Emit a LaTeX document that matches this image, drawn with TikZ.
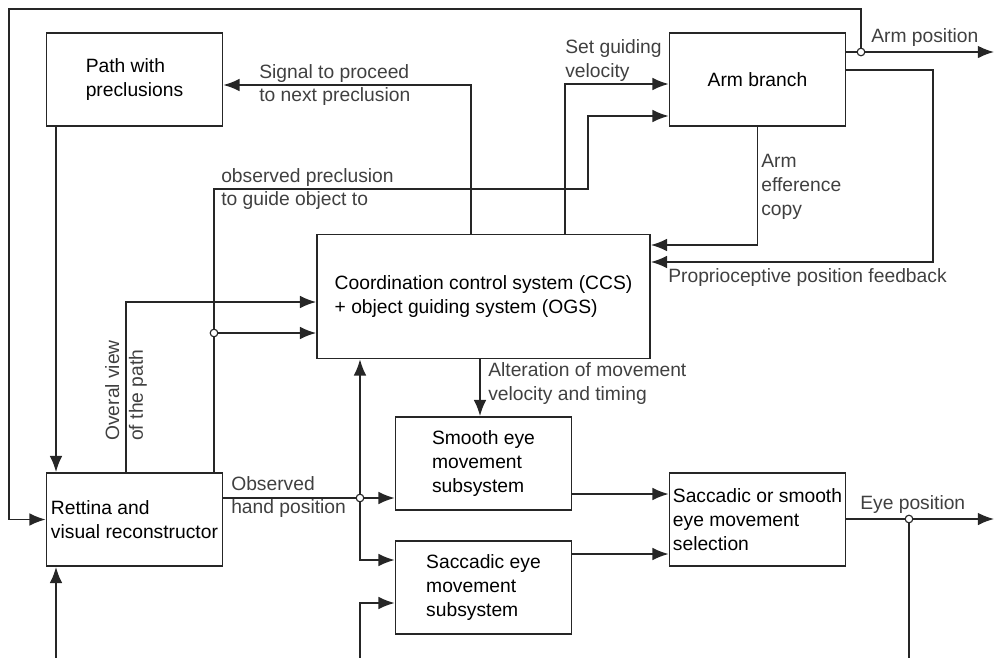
\documentclass[tikz,border=0pt]{standalone}
\usepackage{fontspec}
\setmainfont{Liberation Sans}
\usetikzlibrary{arrows.meta}

\definecolor{wiregray}{gray}{0.15}
\definecolor{notegray}{gray}{0.25}

\tikzset{
  box/.style={draw=wiregray, line width=1.2pt, minimum width=4.4cm, minimum height=2.33cm,
    align=left, inner sep=1pt, font=\fontsize{13.7}{17}\selectfont},
  link/.style={draw=wiregray, line width=1.1pt},
  flow/.style={link, -{Latex[length=11.5pt,width=9pt]}},
  lbl/.style={text=notegray, inner sep=0pt, align=left, font=\fontsize{13.7}{17}\selectfont},
  tap/.style={circle, draw=wiregray, fill=white, line width=0.8pt, inner sep=0pt, minimum size=0.19cm}
}

\begin{document}
\begin{tikzpicture}[x=0.025cm, y=-0.025cm]
\useasboundingbox (0,0) rectangle (994,658);

% blocks
\node[box] (path) at (134.5,79.5) {Path with\\preclusions};
\node[box] (arm) at (757.5,79.5) {Arm branch};
\node[box, minimum width=8.325cm, minimum height=3.1cm] (ccs) at (483.5,296.5)
  {Coordination control system (CCS)\\+ object guiding system (OGS)};
\node[box] (ret) at (134.5,519.5) {Rettina and\\visual reconstructor};
\node[box] (smooth) at (483.5,463.5) {Smooth eye\\movement\\subsystem};
\node[box] (sacc) at (483.5,587.5) {Saccadic eye\\movement\\subsystem};
\node[box] (sel) at (757.5,519.5) {Saccadic or smooth\\eye movement\\selection};

% corners and branch points of the wires
\coordinate (jarm) at (861,52);
\coordinate (armout) at (994,52);
\coordinate (loop) at (9,9);
\coordinate (prop1) at (933,70);
\coordinate (prop2) at (933,262);
\coordinate (eff) at (757,245);
\coordinate (vel) at (565,84);
\coordinate (sig) at (471,85);
\coordinate (obs1) at (214,189);
\coordinate (obs2) at (588,189);
\coordinate (obs3) at (588,116);
\coordinate (jobs) at (214,333);
\coordinate (ov) at (126,302);
\coordinate (pathx) at (56,300);
\coordinate (botl) at (56,658);
\coordinate (jhand) at (360,498);
\coordinate (sacc1) at (360,560);
\coordinate (sacc2) at (360,603);
\coordinate (botm) at (360,658);
\coordinate (alt) at (480,400);
\coordinate (smo) at (620,494);
\coordinate (sac) at (620,554);
\coordinate (jeye) at (909,519);
\coordinate (eyeout) at (994,519);
\coordinate (boteye) at (909,658);

% arm loop
\draw[flow] (arm.east |- jarm) -- (armout);
\draw[flow] (jarm) |- (loop) |- (ret.west);
\draw[flow] (arm.east |- prop1) -- (prop1) -- (prop2) -- (ccs.east |- prop2);
\draw[flow] (arm.south) |- (ccs.east |- eff);
\draw[flow] (ccs.north -| vel) |- (arm.west |- vel);
\draw[flow] (ccs.north -| sig) |- (path.east |- sig);
\draw[flow] (ret.north -| obs1) |- (obs2) |- (arm.west |- obs3);
\draw[flow] (jobs) -- (ccs.west |- jobs);
\draw[flow] (ret.north -| ov) |- (ccs.west |- ov);
\draw[flow] (path.south -| pathx) -- (ret.north -| pathx);
\draw[flow] (botl) -- (ret.south -| botl);

% eye loop
\draw[link] (ret.east |- jhand) -- (jhand);
\draw[flow] (jhand) -- (smooth.west |- jhand);
\draw[flow] (jhand) -- (ccs.south -| jhand);
\draw[flow] (jhand) |- (sacc.west |- sacc1);
\draw[flow] (botm) |- (sacc.west |- sacc2);
\draw[flow] (ccs.south -| alt) -- (smooth.north -| alt);
\draw[flow] (smooth.east |- smo) -- (sel.west |- smo);
\draw[flow] (sacc.east |- sac) -- (sel.west |- sac);
\draw[flow] (sel.east |- jeye) -- (eyeout);
\draw[link] (jeye) -- (boteye);

\foreach \j in {jarm,jobs,jhand,jeye}
  \node[tap] (\j dot) at (\j) {};

% signal names
\node[lbl, anchor=south west] (armlbl) at (871,47) {Arm position};
\node[lbl, anchor=north west] (proplbl) at (668,268) {Proprioceptive position feedback};
\node[lbl, anchor=north west] (efflbl) at (761,154) {Arm\\efference\\copy};
\node[lbl, anchor=south west] (vellbl) at (565,82) {Set guiding\\velocity};
\node[lbl, anchor=west] (siglbl) at (259,85) {Signal to proceed\\to next preclusion};
\node[lbl, anchor=west] (obslbl) at (221,189) {observed preclusion\\to guide object to};
\node[lbl, anchor=west] (handlbl) at (231,497) {Observed\\hand position};
\node[lbl, anchor=west, rotate=90] (ovlbl) at (126,441) {Overal view\\of the path};
\node[lbl, anchor=north west] (altlbl) at (488,362) {Alteration of movement\\velocity and timing};
\node[lbl, anchor=south west] (eyelbl) at (860,514) {Eye position};
\end{tikzpicture}
\end{document}
